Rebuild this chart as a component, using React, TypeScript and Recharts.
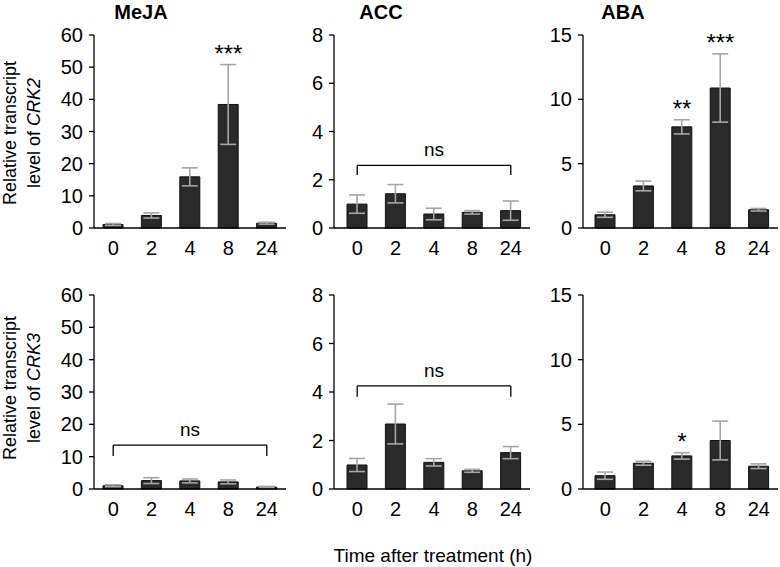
import React from 'react';
import { BarChart, Bar, XAxis, YAxis, ErrorBar, ReferenceLine, ReferenceDot } from 'recharts';

// ---------- data ----------
const times = ['0', '2', '4', '8', '24'];
const treatments = ['MeJA', 'ACC', 'ABA'];
const genes = ['CRK2', 'CRK3'];

const mejaCrk2 = [1.1, 3.9, 15.9, 38.4, 1.5];
const mejaCrk2Err = [0.3, 0.8, 2.8, 12.4, 0.3];
const mejaCrk2Sig = ['', '', '', '***', ''];

const accCrk2 = [0.99, 1.42, 0.58, 0.65, 0.72];
const accCrk2Err = [0.38, 0.38, 0.24, 0.07, 0.4];
const accCrk2Sig = ['', '', '', '', ''];

const abaCrk2 = [1.03, 3.27, 7.86, 10.88, 1.42];
const abaCrk2Err = [0.2, 0.38, 0.55, 2.65, 0.1];
const abaCrk2Sig = ['', '', '**', '***', ''];

const mejaCrk3 = [1.0, 2.6, 2.5, 2.2, 0.6];
const mejaCrk3Err = [0.3, 0.9, 0.6, 0.6, 0.2];
const mejaCrk3Sig = ['', '', '', '', ''];

const accCrk3 = [0.99, 2.68, 1.1, 0.75, 1.5];
const accCrk3Err = [0.27, 0.82, 0.15, 0.06, 0.25];
const accCrk3Sig = ['', '', '', '', ''];

const abaCrk3 = [1.03, 1.99, 2.56, 3.75, 1.76];
const abaCrk3Err = [0.28, 0.15, 0.25, 1.5, 0.18];
const abaCrk3Sig = ['', '', '*', '', ''];

const mejaTicks = [0, 10, 20, 30, 40, 50, 60];
const accTicks = [0, 2, 4, 6, 8];
const abaTicks = [0, 5, 10, 15];

// "ns" brackets: [bar height, leg bottom] or null
const accCrk2Bracket = [2.6, 2.2];
const mejaCrk3Bracket = [13.6, 10.2];
const accCrk3Bracket = [4.25, 3.8];

const FONT = '"Liberation Sans", Arial, Helvetica, sans-serif';

type PanelProps = {
  left: number; top: number; width: number; height: number; padLeft: number;
  ticks: number[]; values: number[]; errs: number[]; sig: string[]; bracket: number[] | null;
};

function Panel({ left, top, width, height, padLeft, ticks, values, errs, sig, bracket }: PanelProps) {
  const data = times.map((t, i) => ({ t, v: values[i], e: errs[i], top: values[i] + errs[i], s: sig[i] }));
  const yMax = ticks[ticks.length - 1];
  return (
    <div style={{ position: 'absolute', left, top }}>
      <BarChart width={width} height={height} data={data} margin={{ top: 15, right: 5, bottom: 0, left: 0 }}>
        <XAxis dataKey="t" height={30} tickLine={false} axisLine={{ stroke: '#000', strokeWidth: 1.3 }}
          tick={{ fill: '#000', fontSize: 20, fontFamily: FONT }} tickMargin={7} interval={0}
          padding={{ left: padLeft, right: 0 }} />
        <YAxis width={45} domain={[0, yMax]} ticks={ticks} interval={0} tickSize={5} tickMargin={6}
          axisLine={{ stroke: '#000', strokeWidth: 1.3 }} tickLine={{ stroke: '#000', strokeWidth: 1.3 }}
          tick={{ fill: '#000', fontSize: 20, fontFamily: FONT }} />
        <Bar dataKey="v" fill="#2a2a2a" stroke="#111" strokeWidth={1} barSize={20} isAnimationActive={false}>
          <ErrorBar dataKey="e" width={8} stroke="#a6a6a6" strokeWidth={1.6} direction="y" />
        </Bar>
        {data.filter(d => d.s).map(d => (
          <ReferenceDot key={'s' + d.t} x={d.t} y={d.top} r={0} stroke="none" fill="none"
            label={{ value: d.s, position: 'top', offset: 3, fill: '#000', fontSize: 24, fontFamily: FONT }} />
        ))}
        {bracket && (
          <ReferenceLine segment={[{ x: times[0], y: bracket[0] }, { x: times[4], y: bracket[0] }]} stroke="#000" strokeWidth={1.3} />
        )}
        {bracket && (
          <ReferenceLine segment={[{ x: times[0], y: bracket[0] }, { x: times[0], y: bracket[1] }]} stroke="#000" strokeWidth={1.3} />
        )}
        {bracket && (
          <ReferenceLine segment={[{ x: times[4], y: bracket[0] }, { x: times[4], y: bracket[1] }]} stroke="#000" strokeWidth={1.3} />
        )}
        {bracket && (
          <ReferenceDot x={times[2]} y={bracket[0]} r={0} stroke="none" fill="none"
            label={{ value: 'ns', position: 'top', offset: 9, fill: '#000', fontSize: 19, fontFamily: FONT }} />
        )}
      </BarChart>
    </div>
  );
}

export default function App() {
  const cols = [
    { left: 49, width: 242, padLeft: 0, ticks: mejaTicks },
    { left: 289, width: 246, padLeft: 4, ticks: accTicks },
    { left: 538, width: 245, padLeft: 3, ticks: abaTicks },
  ];
  const rows = [
    { top: 20, height: 238 },
    { top: 280, height: 239 },
  ];
  const sets = [
    [
      { values: mejaCrk2, errs: mejaCrk2Err, sig: mejaCrk2Sig, bracket: null },
      { values: accCrk2, errs: accCrk2Err, sig: accCrk2Sig, bracket: accCrk2Bracket },
      { values: abaCrk2, errs: abaCrk2Err, sig: abaCrk2Sig, bracket: null },
    ],
    [
      { values: mejaCrk3, errs: mejaCrk3Err, sig: mejaCrk3Sig, bracket: mejaCrk3Bracket },
      { values: accCrk3, errs: accCrk3Err, sig: accCrk3Sig, bracket: accCrk3Bracket },
      { values: abaCrk3, errs: abaCrk3Err, sig: abaCrk3Sig, bracket: null },
    ],
  ];
  const titleX = [141, 381, 623];
  const labelY = [133, 388];
  return (
    <div style={{ position: 'absolute', left: 0, top: 0, width: 780, height: 567, background: '#fff', fontFamily: FONT }}>
      {rows.map((r, ri) => cols.map((c, ci) => (
        <Panel key={ri + '-' + ci} left={c.left} top={r.top} width={c.width} height={r.height}
          padLeft={c.padLeft} ticks={c.ticks} {...sets[ri][ci]} />
      )))}
      <svg width={780} height={567} style={{ position: 'absolute', left: 0, top: 0, pointerEvents: 'none' }}>
        {treatments.map((t, i) => (
          <text key={t} x={titleX[i]} y={19} textAnchor="middle" fontSize={20} fontWeight="bold" fontFamily={FONT} fill="#000">{t}</text>
        ))}
        {genes.map((g, i) => (
          <g key={g}>
            <text transform={`translate(16,${labelY[i]}) rotate(-90)`} textAnchor="middle" fontSize={18} fontFamily={FONT} fill="#000">Relative transcript</text>
            <text transform={`translate(40,${labelY[i]}) rotate(-90)`} textAnchor="middle" fontSize={18} fontFamily={FONT} fill="#000">
              level of <tspan fontStyle="italic">{g}</tspan>
            </text>
          </g>
        ))}
        <text x={433} y={562} textAnchor="middle" fontSize={19} fontFamily={FONT} fill="#000">Time after treatment (h)</text>
      </svg>
    </div>
  );
}
